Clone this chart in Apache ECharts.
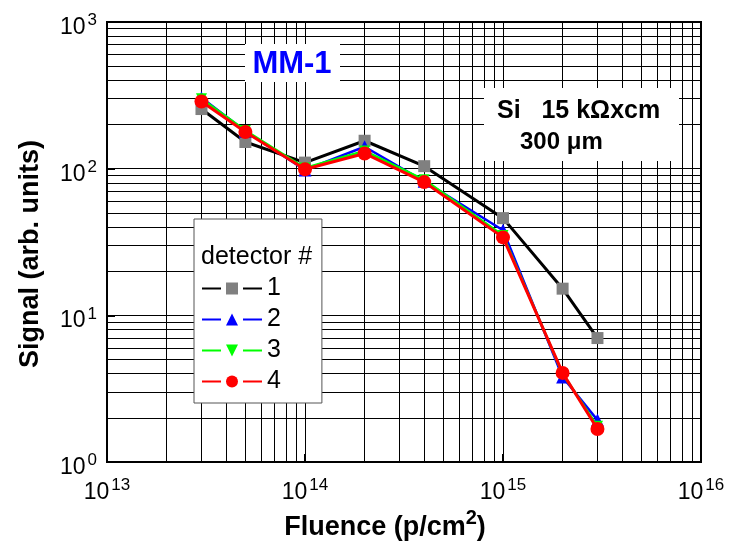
<!DOCTYPE html>
<html><head><meta charset="utf-8">
<script src="https://cdn.jsdelivr.net/npm/echarts@6/dist/echarts.min.js"></script>
<style>html,body{margin:0;padding:0;background:#fff}#c{width:730px;height:542px}</style>
</head><body><div id="c"></div>
<script>
// ---- data ----
const fluence = [3e13, 5e13, 1e14, 2e14, 4e14, 1e15, 2e15, 3e15];
const det1 = [255, 152, 110, 155, 104, 46, 15.2, 7.0];
const det2 = [305, 180, 98, 141, 82, 38, 3.8, 1.93];
const det3 = [300, 182, 101, 132, 84, 35, 4.0, 1.75];
const det4 = [287, 178, 99, 127, 81, 34, 4.05, 1.68];
const seriesNames = ['1', '2', '3', '4'];
const xRange = [1e13, 1e16];
const yRange = [1, 1000];
const chartLabel = 'MM-1';
const noteLine1 = 'Si   15 kΩxcm';
const noteLine2 = '300 μm';
const legendTitle = 'detector #';
const xName = '{n|Fluence (p/cm}{s|2}{n|)}';
const yName = 'Signal (arb. units)';

// minor log grid positions (2..9 x 10^n)
const minorX = [], minorY = [];
for (let d = 13; d < 16; d++) for (let m = 2; m <= 9; m++) minorX.push(m * Math.pow(10, d));
for (let d = 0; d < 3; d++) for (let m = 2; m <= 9; m++) minorY.push(m * Math.pow(10, d));

const FONT = '"Liberation Sans", Arial, Helvetica, sans-serif';
const pair = (ys) => fluence.map((x, i) => [x, ys[i]]);
const expFmt = (v) => '{b|10}{s|' + Math.round(Math.log10(v)) + '}';
const labelRich = {
  b: { fontSize: 23, color: '#000', fontFamily: FONT, padding: [4, 0, 0, 0], verticalAlign: 'bottom' },
  s: { fontSize: 17, color: '#000', fontFamily: FONT, padding: [0, 0, 0, 2], verticalAlign: 'top' }
};

const chart = echarts.init(document.getElementById('c'), null, { renderer: 'canvas' });
chart.setOption({
  animation: false,
  backgroundColor: '#fff',
  textStyle: { fontFamily: FONT },
  grid: { left: 107, right: 29, top: 22, bottom: 80, containLabel: false, outerBoundsMode: 'none',
    show: true, borderColor: '#000', borderWidth: 2, backgroundColor: 'transparent' },
  xAxis: {
    type: 'log', logBase: 10, min: xRange[0], max: xRange[1],
    name: xName, nameLocation: 'middle', nameGap: 33,
    nameTextStyle: { fontSize: 27, fontWeight: 'bold', color: '#000', fontFamily: FONT, padding: [0, 38, 0, 0],
      rich: {
        n: { fontSize: 27, fontWeight: 'bold', color: '#000', fontFamily: FONT, padding: [5, 0, 0, 0], verticalAlign: 'bottom' },
        s: { fontSize: 20, fontWeight: 'bold', color: '#000', fontFamily: FONT, verticalAlign: 'top' }
      } },
    axisLine: { lineStyle: { color: '#000', width: 2 } },
    axisTick: { inside: true, length: 8, lineStyle: { color: '#000', width: 2 } },
    axisLabel: { margin: 15, fontSize: 23, color: '#000', formatter: expFmt, rich: labelRich, showMinLabel: true, showMaxLabel: true },
    splitLine: { show: true, lineStyle: { color: '#000', width: 1 } }
  },
  yAxis: {
    type: 'log', logBase: 10, min: yRange[0], max: yRange[1],
    name: yName, nameLocation: 'middle', nameGap: 63,
    nameTextStyle: { fontSize: 27, fontWeight: 'bold', color: '#000', fontFamily: FONT, padding: [0, 24, 0, 0] },
    axisLine: { lineStyle: { color: '#000', width: 2 } },
    axisTick: { inside: true, length: 8, lineStyle: { color: '#000', width: 2 } },
    axisLabel: { margin: 10, fontSize: 23, color: '#000', formatter: expFmt, rich: labelRich, padding: [7, 0, 0, 0], showMinLabel: true, showMaxLabel: true },
    splitLine: { show: true, lineStyle: { color: '#000', width: 1 } }
  },
  legend: {
    data: seriesNames, orient: 'vertical', left: 194, top: 219,
    padding: [57, 41, 9, 7], itemGap: 6, itemWidth: 60, itemHeight: 15,
    backgroundColor: '#fff', borderColor: '#555', borderWidth: 1, borderRadius: 0,
    textStyle: { fontSize: 25, color: '#000', fontFamily: FONT },
    lineStyle: { type: [19, 22] },
    z: 20
  },
  graphic: [
    { type: 'rect', shape: { x: 245, y: 44, width: 95, height: 38 }, style: { fill: '#fff' }, z: 10 },
    { type: 'text', x: 292, y: 64, z: 11, style: { text: chartLabel, fill: '#0000ff', font: 'bold 31px ' + FONT, textAlign: 'center', textVerticalAlign: 'middle' } },
    { type: 'rect', shape: { x: 484, y: 88, width: 195, height: 73 }, style: { fill: '#fff' }, z: 10 },
    { type: 'text', x: 497, y: 111, z: 11, style: { text: noteLine1, fill: '#000', font: 'bold 25px ' + FONT, textAlign: 'left', textVerticalAlign: 'middle' } },
    { type: 'text', x: 520, y: 142, z: 11, style: { text: noteLine2, fill: '#000', font: 'bold 24px ' + FONT, textAlign: 'left', textVerticalAlign: 'middle' } },
    { type: 'text', x: 201, y: 257, z: 30, style: { text: legendTitle, fill: '#000', font: '25px ' + FONT, textAlign: 'left', textVerticalAlign: 'middle' } }
  ],
  series: [
    {
      name: 'minor-grid', type: 'line', data: [], z: 1, silent: true,
      markLine: {
        silent: true, symbol: ['none', 'none'], z: 1, animation: false,
        label: { show: false },
        lineStyle: { color: '#000', width: 1, type: 'solid' },
        emphasis: { disabled: true },
        data: minorX.map(v => ({ xAxis: v })).concat(minorY.map(v => ({ yAxis: v })))
      }
    },
    {
      name: seriesNames[0], type: 'line', data: pair(det1), z: 3,
      symbol: 'rect', symbolSize: 12,
      itemStyle: { color: '#808080' }, lineStyle: { color: '#000', width: 3 }
    },
    {
      name: seriesNames[1], type: 'line', data: pair(det2), z: 4,
      symbol: 'triangle', symbolSize: 13,
      itemStyle: { color: '#0000ff' }, lineStyle: { color: '#0000ff', width: 2.5 }
    },
    {
      name: seriesNames[2], type: 'line', data: pair(det3), z: 5,
      symbol: 'triangle', symbolRotate: 180, symbolSize: 11,
      itemStyle: { color: '#00ff00' }, lineStyle: { color: '#00ff00', width: 2.5 }
    },
    {
      name: seriesNames[3], type: 'line', data: pair(det4), z: 6,
      symbol: 'circle', symbolSize: 14,
      itemStyle: { color: '#ff0000' }, lineStyle: { color: '#ff0000', width: 3 }
    }
  ]
});
</script>
</body></html>
